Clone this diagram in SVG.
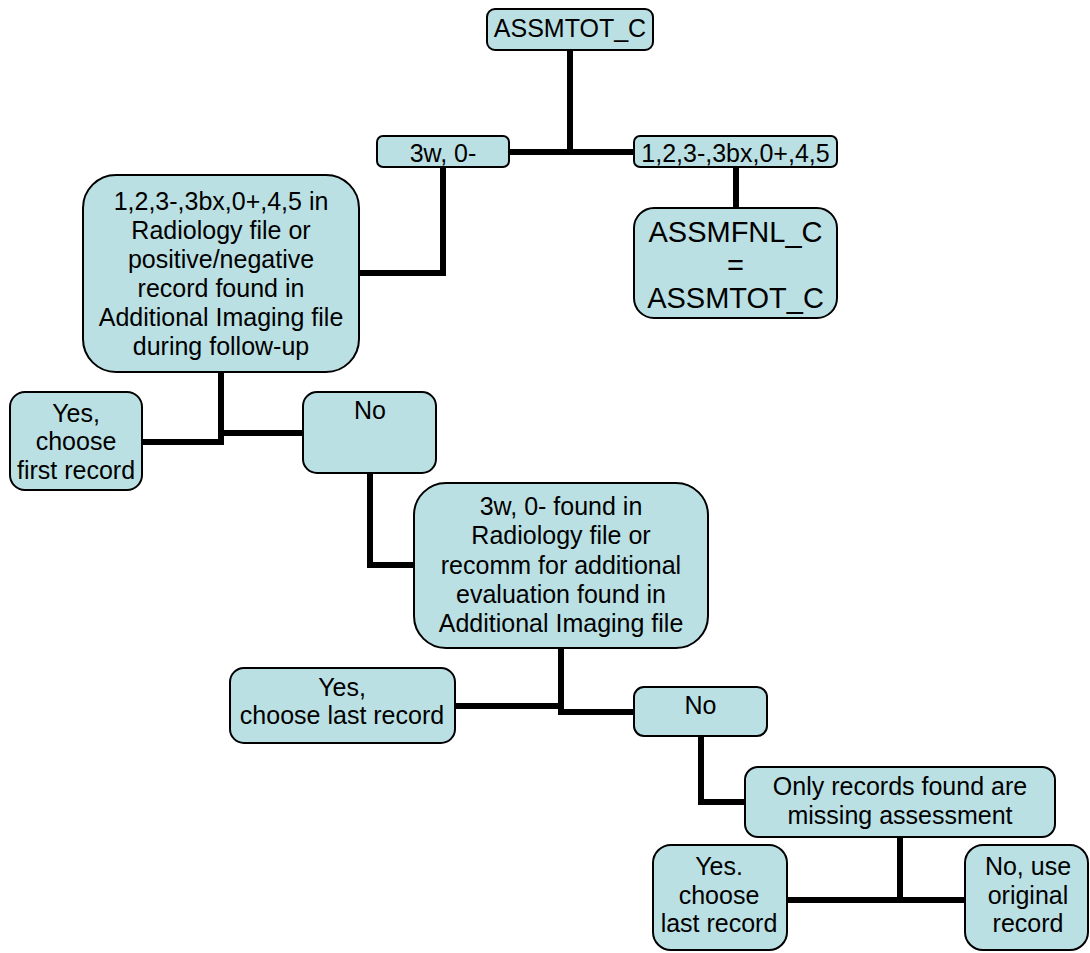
<svg xmlns="http://www.w3.org/2000/svg" width="1090" height="953" viewBox="0 0 1090 953">
<style>
.box{fill:#BBE0E3;stroke:#000;stroke-width:2}
.t{font-family:"Liberation Sans",Arial,sans-serif;font-size:25px;fill:#000;text-anchor:middle}
.big{font-size:29px}
.c{fill:none;stroke:#000;stroke-width:6;stroke-linejoin:miter;stroke-linecap:butt}
</style>
<rect width="1090" height="953" fill="#fff"/>
<g id="connectors">
<path class="c" d="M570,50 V152 H509"/>
<path class="c" d="M570,152 H634"/>
<path class="c" d="M443,167 V273 H359"/>
<path class="c" d="M736,167 V208"/>
<path class="c" d="M221,372 V442 H142"/>
<path class="c" d="M221,433 H303"/>
<path class="c" d="M370,473 V565 H414"/>
<path class="c" d="M561,648 V712 H634"/>
<path class="c" d="M561,706 H455"/>
<path class="c" d="M701,736 V802 H745"/>
<path class="c" d="M900,837 V900 H787"/>
<path class="c" d="M900,900 H965"/>
</g>
<g id="assmtot">
<rect class="box" x="487" y="9" width="166" height="41" rx="8"/>
<text class="t" x="570" y="37">ASSMTOT_C</text>
</g>
<g id="n3w">
<rect class="box" x="377" y="136" width="132" height="31" rx="6"/>
<text class="t" x="443" y="162">3w, 0-</text>
</g>
<g id="n123">
<rect class="box" x="634" y="136" width="203" height="31" rx="6"/>
<text class="t" x="735.5" y="162">1,2,3-,3bx,0+,4,5</text>
</g>
<g id="assmfnl">
<rect class="box" x="634" y="208" width="203" height="110" rx="20"/>
<text class="t big" x="735.5" y="242">ASSMFNL_C</text>
<text class="t big" x="735.5" y="275">=</text>
<text class="t big" x="735.5" y="308">ASSMTOT_C</text>
</g>
<g id="q1">
<rect class="box" x="83" y="175" width="276" height="197" rx="33"/>
<text class="t" x="221" y="210">1,2,3-,3bx,0+,4,5 in</text>
<text class="t" x="221" y="239">Radiology file or</text>
<text class="t" x="221" y="268">positive/negative</text>
<text class="t" x="221" y="297">record found in</text>
<text class="t" x="221" y="326">Additional Imaging file</text>
<text class="t" x="221" y="354.5">during follow-up</text>
</g>
<g id="yes1">
<rect class="box" x="10" y="392" width="132" height="98" rx="15"/>
<text class="t" x="76" y="421.5">Yes,</text>
<text class="t" x="76" y="450">choose</text>
<text class="t" x="76" y="478.5">first record</text>
</g>
<g id="no1">
<rect class="box" x="303" y="392" width="133" height="81" rx="14"/>
<text class="t" x="370" y="419">No</text>
</g>
<g id="q2">
<rect class="box" x="414" y="483" width="294" height="165" rx="32"/>
<text class="t" x="561" y="515">3w, 0- found in</text>
<text class="t" x="561" y="544">Radiology file or</text>
<text class="t" x="561" y="573.5">recomm for additional</text>
<text class="t" x="561" y="602.5">evaluation found in</text>
<text class="t" x="561" y="631.5">Additional Imaging file</text>
</g>
<g id="yes2">
<rect class="box" x="230" y="668" width="225" height="75" rx="14"/>
<text class="t" x="342" y="696">Yes,</text>
<text class="t" x="342" y="724">choose last record</text>
</g>
<g id="no2">
<rect class="box" x="634" y="687" width="133" height="49" rx="10"/>
<text class="t" x="700.5" y="713.5">No</text>
</g>
<g id="q3">
<rect class="box" x="745" y="767" width="310" height="70" rx="13"/>
<text class="t" x="900" y="795">Only records found are</text>
<text class="t" x="900" y="823.5">missing assessment</text>
</g>
<g id="yes3">
<rect class="box" x="653" y="845" width="134" height="105" rx="18"/>
<text class="t" x="719" y="875">Yes.</text>
<text class="t" x="719" y="903.5">choose</text>
<text class="t" x="719" y="931.5">last record</text>
</g>
<g id="no3">
<rect class="box" x="965" y="845" width="123" height="105" rx="18"/>
<text class="t" x="1028" y="875">No, use</text>
<text class="t" x="1028" y="903.5">original</text>
<text class="t" x="1028" y="931.5">record</text>
</g>
</svg>
